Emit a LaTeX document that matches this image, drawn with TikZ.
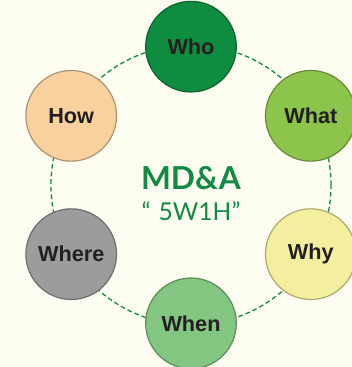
\documentclass[tikz,border=0pt]{standalone}
\usepackage{fontspec}
\setmainfont{Liberation Sans}
\newfontfamily\lato{Lato}
\usetikzlibrary{chains,positioning}

\definecolor{fond}{HTML}{FCFCF1}
\definecolor{vertmd}{HTML}{138A43}
\definecolor{quicol}{HTML}{0E8C40}
\definecolor{quoicol}{HTML}{8DC44B}
\definecolor{pourquoicol}{HTML}{F4EF9E}
\definecolor{quandcol}{HTML}{82C682}
\definecolor{oucol}{HTML}{9C9C9C}
\definecolor{commentcol}{HTML}{F8D19E}
\definecolor{texte}{HTML}{231F20}

\begin{document}
\begin{tikzpicture}[
      start chain=circle placed {at=(\tikzchaincount*-60+150:4.15)},
      mot/.style={
        on chain,
        circle,
        fill=#1,
        draw=#1!70!black,
        line width=1pt,
        minimum size=2.72cm,
        text=texte,
        font=\bfseries\fontsize{18.5}{18.5}\selectfont
      },
      anneau/.style={
        draw=vertmd,
        line width=1.1pt,
        dash pattern=on 4pt off 2.5pt
      }
    ]
    \fill[fond] (-5.73,-5.46) rectangle (4.8,5.55) ;
    \useasboundingbox (-5.73,-5.46) rectangle (4.8,5.55) ;

    \draw[anneau] (0,0) circle (4.2) ;

    \node[mot=quicol] (qui) {Who} ;
    \node[mot=quoicol] (quoi) {What} ;
    \node[mot=pourquoicol] (pourquoi) {Why} ;
    \node[mot=quandcol] (quand) {When} ;
    \node[mot=oucol] (ou) {Where} ;
    \node[mot=commentcol] (comment) {How} ;

    \node[text=vertmd, font=\lato\bfseries\fontsize{27}{27}\selectfont] (titre) at (0,0.2) {MD\&A} ;
    \node[text=vertmd, font=\lato\fontsize{21}{21}\selectfont, below=0.1cm of titre] (sous) {“\,\,5W1H”} ;
  \end{tikzpicture}
\end{document}
